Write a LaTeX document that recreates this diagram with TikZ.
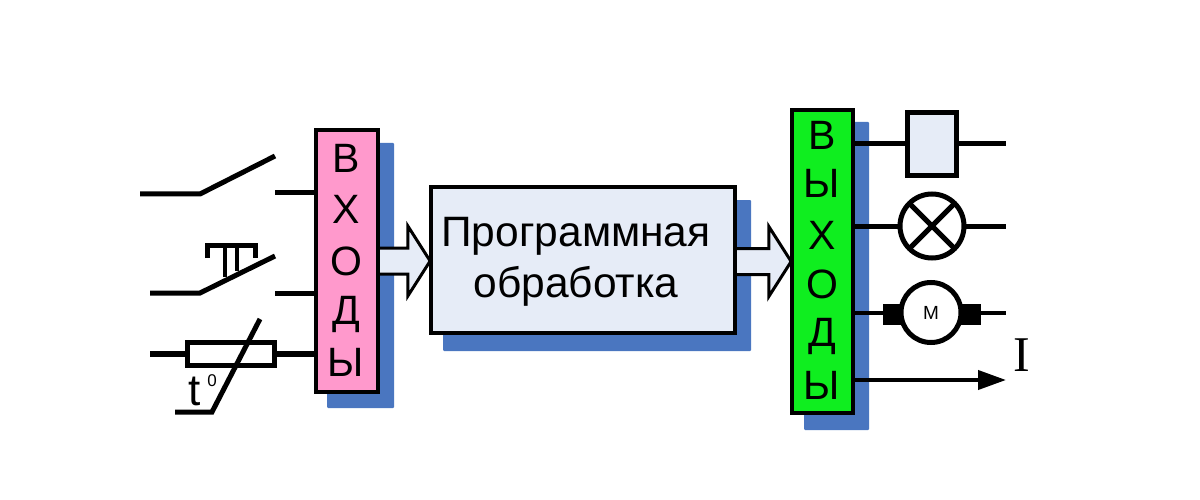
\documentclass[tikz,border=0pt]{standalone}
\usepackage{fontspec}
\usepackage{xcolor}
\usepackage{tikz}
\usetikzlibrary{arrows.meta,positioning,shapes.arrows,calc}
\setmainfont{Liberation Sans}
\newfontfamily\serifletter{Liberation Serif}
\definecolor{shadowblue}{HTML}{4A76C0}
\definecolor{palefill}{HTML}{E6ECF7}
\definecolor{inpink}{HTML}{FF99CC}
\definecolor{outgreen}{HTML}{0FEE1F}
\tikzset{
  shadowbox/.style={fill=shadowblue, rounded corners=1pt, inner sep=0pt},
  mainbox/.style={draw=black, line width=4pt, inner sep=0pt, outer sep=0pt},
  wire/.style={line width=5pt, draw=black},
  flowarrow/.style={single arrow, draw=black, fill=palefill, line width=3pt,
        inner xsep=0pt, inner ysep=11.5pt, single arrow head extend=22pt,
        single arrow tip angle=115, single arrow head indent=0pt},
  boxletter/.style={font=\fontsize{41}{41}\selectfont, inner sep=0pt}
}
\begin{document}
\begin{tikzpicture}[x=1pt,y=-1pt]
  \useasboundingbox (0,0) rectangle (1200,500);
  % blue offsets behind the three blocks
  \node[shadowbox, minimum width=67pt, minimum height=265pt] (inshadow) at (360.5,275.5) {};
  \node[shadowbox, minimum width=308pt, minimum height=151pt] (coreshadow) at (597,275.5) {};
  \node[shadowbox, minimum width=65pt, minimum height=308pt] (outshadow) at (836.5,276) {};
  % wide arrows between the blocks
  \node[flowarrow, minimum height=60pt] (inarrow) at (396,261) {};
  \node[flowarrow, minimum height=62pt] (outarrow) at (756,261.5) {};
  % blocks
  \node[mainbox, fill=inpink, minimum width=62pt, minimum height=261pt] (inbox) at (346.5,261) {};
  \node[mainbox, fill=palefill, minimum width=304pt, minimum height=145pt] (corebox) at (582.5,260) {};
  \node[mainbox, fill=outgreen, minimum width=61pt, minimum height=302pt] (outbox) at (822,261.5) {};
  \node[align=center, inner sep=0pt, font=\fontsize{42.5}{51}\selectfont] (coretext) at (576,262) {Программная\\обработка};
  % letters
  \foreach \ch/\ypos [count=\i] in {В/158,Х/209,О/261,Д/314,Ы/362}
    \node[boxletter] (inletter\i) at (346,\ypos) {\ch};
  \foreach \ch/\ypos [count=\i] in {В/135,Ы/183,Х/235,О/284,Д/336,Ы/385}
    \node[boxletter] (outletter\i) at (822,\ypos) {\ch};
  % plain switch
  \coordinate (swone) at (140,194);
  \coordinate (swonebend) at (200,194);
  \coordinate (swoneend) at (275,156);
  \coordinate (swonestub) at (275,193);
  \draw[wire] (swone) -- (swonebend) -- (swoneend);
  \draw[wire] (swonestub) -- (swonestub -| inbox.west);
  % push button
  \coordinate (swtwo) at (150,293);
  \coordinate (swtwobend) at (200,293);
  \coordinate (swtwoend) at (275,256);
  \coordinate (swtwostub) at (275,293);
  \draw[wire] (swtwo) -- (swtwobend) -- (swtwoend);
  \draw[wire] (swtwostub) -- (swtwostub -| inbox.west);
  \draw[wire] (207,258) -- (207,245) -- (255,245) -- (255,258);
  \draw[line width=4pt] (225,245) -- (225,277);
  \draw[line width=4pt] (237,245) -- (237,271);
  % thermistor
  \coordinate (thermin) at (150,354);
  \node[draw=black, fill=white, line width=5pt, inner sep=0pt, outer sep=0pt, minimum width=87pt,
        minimum height=23pt] (therm) at (230.5,354) {};
  \draw[line width=6pt] (thermin) -- (therm.west);
  \draw[line width=6pt] (therm.east) -- (therm.east -| inbox.west);
  \draw[wire] (175,412) -- (212,412) -- (260,319);
  \node[font=\fontsize{44}{44}\selectfont, inner sep=0pt] (thermt) at (195,391) {t};
  \node[font=\fontsize{17}{17}\selectfont, inner sep=0pt] (thermdeg) at (212,381) {0};
  % output devices
  \node[draw=black, fill=palefill, line width=5pt, inner sep=0pt, outer sep=0pt, minimum width=49pt,
        minimum height=63pt] (relay) at (932,144) {};
  \coordinate (relayout) at (1006,144);
  \draw[wire] (outbox.east |- relayout) -- (relay.west |- relayout);
  \draw[wire] (relay.east |- relayout) -- (relayout);
  \node[circle, draw=black, fill=white, line width=5pt, inner sep=0pt, outer sep=0pt,
        minimum size=64pt] (lamp) at (932,226) {};
  \coordinate (lampout) at (1006,226);
  \draw[wire] (outbox.east |- lampout) -- (lamp.west);
  \draw[wire] (lamp.east) -- (lampout);
  \draw[wire] (lamp.north west) -- (lamp.south east);
  \draw[wire] (lamp.north east) -- (lamp.south west);
  \node[fill=black, inner sep=0pt, minimum width=22pt, minimum height=21pt] (brushleft) at (894,314) {};
  \node[fill=black, inner sep=0pt, minimum width=22pt, minimum height=21pt] (brushright) at (970,314) {};
  \node[circle, draw=black, fill=white, line width=5pt, inner sep=0pt, outer sep=0pt,
        minimum size=60pt, font=\fontsize{19}{19}\selectfont] (motor) at (931,312.5) {М};
  \coordinate (motorout) at (1006,313);
  \draw[line width=4pt] (outbox.east |- motorout) -- (brushleft.west |- motorout);
  \draw[line width=4pt] (brushright.east |- motorout) -- (motorout);
  \coordinate (currentend) at (1006,380);
  \draw[line width=4pt, -{Triangle[length=28pt,width=19pt]}] (outbox.east |- currentend) -- (currentend);
  \node[font=\fontsize{50}{50}\selectfont\serifletter, inner sep=0pt] (currentlabel) at (1022,355) {I};
\end{tikzpicture}
\end{document}
